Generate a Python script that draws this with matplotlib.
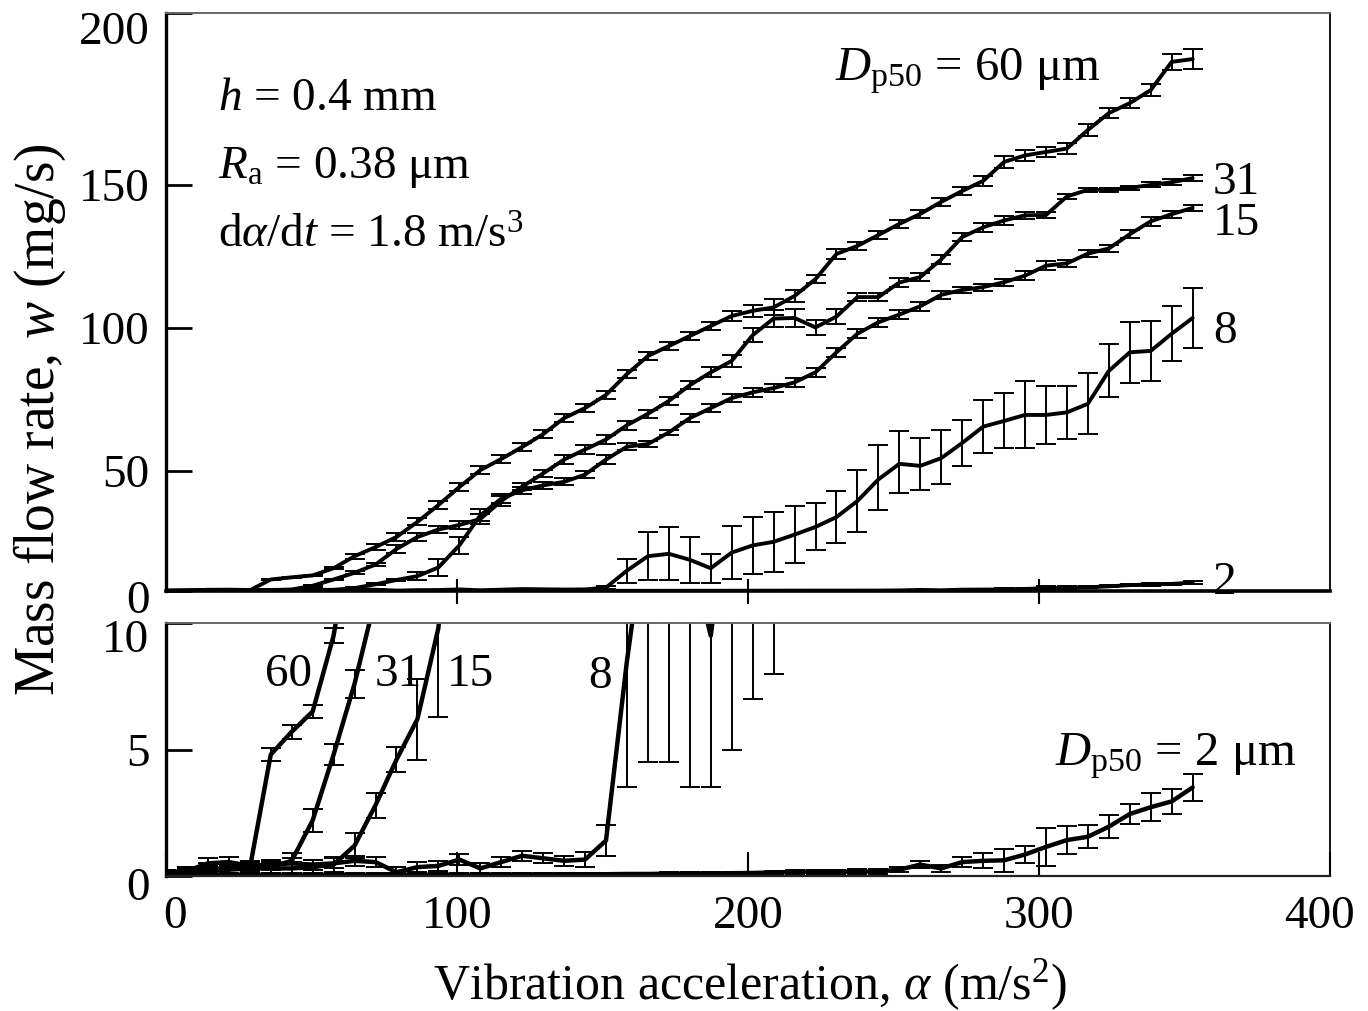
import numpy as np
import matplotlib
matplotlib.use('Agg')
import matplotlib.pyplot as plt
from matplotlib.transforms import ScaledTranslation

plt.rcParams['font.family'] = ['Liberation Serif', 'DejaVu Serif']
plt.rcParams['mathtext.fontset'] = 'custom'
plt.rcParams['mathtext.rm'] = 'Liberation Serif'
plt.rcParams['mathtext.it'] = 'Liberation Serif:italic'
plt.rcParams['mathtext.bf'] = 'Liberation Serif:bold'

# ---------------- data ----------------
accel = [0.0, 7.2, 14.4, 21.6, 28.8, 36.0, 43.2, 50.4, 57.6, 64.8,
         72.0, 79.2, 86.4, 93.6, 100.8, 108.0, 115.2, 122.4, 129.6, 136.8,
         144.0, 151.2, 158.4, 165.6, 172.8, 180.0, 187.2, 194.4, 201.6, 208.8,
         216.0, 223.2, 230.4, 237.6, 244.8, 252.0, 259.2, 266.4, 273.6, 280.8,
         288.0, 295.2, 302.4, 309.6, 316.8, 324.0, 331.2, 338.4, 345.6, 352.8]

w60 = [0.1, 0.15, 0.2, 0.3, 0.3, 4.8, 5.7, 6.5, 9.5, 14.5,
       18.3, 22.5, 28.8, 35.8, 43.3, 50.3, 54.2, 58.4, 62.9, 68.5,
       72.0, 76.6, 83.9, 90.2, 93.7, 97.2, 100.7, 104.2, 106.0, 107.2,
       111.2, 117.1, 125.9, 128.7, 132.5, 136.4, 139.9, 144.1, 147.9, 151.2,
       156.7, 158.6, 159.6, 160.6, 166.0, 170.9, 173.8, 177.6, 185.8, 186.6]
e60 = [0.1, 0.1, 0.15, 0.2, 0.2, 0.25, 0.27, 0.27, 0.3, 1.0,
       1.2, 1.5, 1.5, 1.7, 1.8, 1.5, 1.5, 1.5, 1.5, 1.5,
       1.5, 1.5, 1.5, 1.5, 1.5, 1.5, 1.5, 1.8, 2.0, 2.8,
       2.0, 1.5, 1.8, 1.5, 1.5, 1.5, 1.5, 1.5, 1.5, 1.5,
       1.8, 1.5, 1.5, 1.5, 1.8, 1.5, 1.5, 1.8, 2.3, 3.0]

w31 = [0.15, 0.2, 0.3, 0.3, 0.3, 0.35, 0.6, 2.2, 4.8, 7.6,
       11.0, 17.5, 22.5, 25.6, 27.5, 30.0, 37.5, 43.5, 49.0, 54.0,
       57.5, 61.0, 66.0, 70.0, 74.5, 80.0, 84.5, 88.5, 97.5, 103.3,
       103.5, 100.2, 104.0, 110.8, 110.8, 115.9, 117.8, 124.0, 131.8, 135.2,
       137.6, 139.4, 139.5, 146.0, 148.3, 148.3, 149.0, 150.0, 150.8, 152.0]
e31 = [0.1, 0.15, 0.2, 0.2, 0.25, 0.25, 0.3, 0.45, 0.4, 0.55,
       0.6, 1.5, 1.5, 1.5, 1.5, 2.0, 2.0, 1.5, 1.5, 1.5,
       1.5, 1.5, 1.5, 1.5, 1.5, 1.5, 1.8, 2.0, 2.5, 3.0,
       3.0, 2.5, 2.5, 1.5, 1.5, 1.5, 1.5, 1.5, 1.5, 1.5,
       1.5, 1.2, 1.0, 1.0, 0.8, 0.8, 0.8, 0.8, 0.8, 0.8]

w15 = [0.1, 0.15, 0.2, 0.25, 0.3, 0.3, 0.3, 0.35, 0.45, 1.2,
       2.8, 4.6, 6.2, 9.8, 19.0, 31.5, 38.5, 42.0, 44.0, 45.5,
       48.5, 54.0, 58.5, 59.4, 63.5, 68.5, 72.0, 75.5, 77.5, 79.0,
       81.0, 84.5, 91.5, 98.0, 102.0, 104.7, 107.6, 111.6, 113.3, 114.3,
       116.0, 118.3, 121.8, 122.6, 126.0, 127.8, 132.8, 137.3, 139.8, 142.0]
e15 = [0.1, 0.15, 0.2, 0.2, 0.25, 0.25, 0.25, 0.3, 0.3, 0.5,
       0.5, 0.5, 1.6, 3.5, 3.5, 2.5, 2.0, 1.5, 1.5, 1.5,
       1.5, 1.5, 1.2, 1.0, 1.0, 1.5, 1.5, 1.5, 1.5, 1.5,
       1.5, 1.5, 1.5, 1.5, 1.5, 1.5, 1.5, 1.5, 1.2, 1.2,
       1.2, 1.5, 1.5, 1.2, 1.2, 1.2, 1.5, 1.5, 1.2, 1.0]

w8 = [0.0, 0.2, 0.5, 0.55, 0.4, 0.45, 0.5, 0.45, 0.5, 0.6,
      0.55, 0.15, 0.35, 0.4, 0.65, 0.3, 0.55, 0.8, 0.7, 0.6,
      0.65, 1.4, 8.5, 14.5, 15.5, 13.0, 9.5, 16.0, 19.0, 20.5,
      23.5, 26.7, 30.8, 37.5, 46.5, 52.5, 51.8, 54.5, 59.8, 65.5,
      67.5, 69.6, 69.6, 70.5, 73.5, 85.0, 91.5, 92.0, 98.0, 103.5]
e8 = [0.1, 0.15, 0.2, 0.2, 0.2, 0.2, 0.2, 0.2, 0.2, 0.2,
      0.2, 0.2, 0.2, 0.2, 0.2, 0.2, 0.2, 0.2, 0.2, 0.2,
      0.3, 0.6, 5.0, 10.0, 11.0, 9.5, 6.0, 11.0, 12.0, 12.5,
      12.0, 9.8, 11.0, 13.0, 12.6, 11.5, 9.6, 10.0, 8.0, 9.2,
      9.6, 11.7, 10.0, 9.3, 10.7, 9.3, 10.7, 10.5, 9.6, 10.5]

w2 = [0.05, 0.05, 0.05, 0.05, 0.05, 0.05, 0.05, 0.05, 0.05, 0.05,
      0.05, 0.05, 0.05, 0.05, 0.05, 0.05, 0.06, 0.06, 0.06, 0.07,
      0.07, 0.07, 0.08, 0.08, 0.09, 0.1, 0.1, 0.11, 0.12, 0.14,
      0.16, 0.17, 0.17, 0.17, 0.18, 0.25, 0.45, 0.3, 0.55, 0.6,
      0.62, 0.85, 1.15, 1.42, 1.55, 1.95, 2.45, 2.72, 2.95, 3.5]
e2 = [0.05, 0.05, 0.05, 0.05, 0.05, 0.05, 0.05, 0.05, 0.05, 0.05,
      0.05, 0.05, 0.05, 0.05, 0.05, 0.05, 0.05, 0.05, 0.05, 0.05,
      0.05, 0.05, 0.05, 0.05, 0.05, 0.05, 0.05, 0.05, 0.05, 0.06,
      0.07, 0.08, 0.08, 0.09, 0.1, 0.1, 0.15, 0.15, 0.2, 0.3,
      0.45, 0.35, 0.75, 0.55, 0.45, 0.45, 0.4, 0.55, 0.5, 0.55]

series = [(w60, e60), (w31, e31), (w15, e15), (w8, e8), (w2, e2)]

top_yticks = [0, 50, 100, 150, 200]
bot_yticks = [0, 5, 10]
xticks_lab = [0, 100, 200, 300, 400]

# ---------------- layout ----------------
W, H = 1368, 1011
fig = plt.figure(figsize=(W / 100, H / 100), dpi=100)


def fx(px):
    return px / W


def fy(py):
    return 1 - py / H


ax1 = fig.add_axes([fx(166), fy(591), fx(1330) - fx(166), fy(13) - fy(591)])
ax2 = fig.add_axes([fx(166), fy(876), fx(1330) - fx(166), fy(623) - fy(876)])

# top panel vertical scale (tick spacing of the original is not uniform)
kv = np.array([0., 50., 100., 150., 200.])
kp = np.array([0., 120., 263., 406., 578.])


def fwd(v):
    v = np.asarray(v, dtype=float)
    out = np.interp(v, kv, kp)
    out = np.where(v < 0, v * 2.4, out)
    out = np.where(v > 200, 578 + (v - 200) * 3.44, out)
    return out


def inv(p):
    p = np.asarray(p, dtype=float)
    out = np.interp(p, kp, kv)
    out = np.where(p < 0, p / 2.4, out)
    out = np.where(p > 578, 200 + (p - 578) / 3.44, out)
    return out


ax1.set_yscale('function', functions=(fwd, inv))

for ax, lw in ((ax1, 2.8), (ax2, 3.2)):
    for y, e in series:
        ax.errorbar(accel, y, yerr=e, fmt='-', color='black', lw=lw,
                    elinewidth=1.4, capsize=7, capthick=1.4,
                    solid_joinstyle='round', solid_capstyle='round')
    ax.set_xlim(0, 400)

ax1.set_ylim(0, 200)
ax2.set_ylim(0, 10)

TICK_FS = 34
ax1.set_yticks(top_yticks)
ax1.set_yticklabels([str(t) for t in top_yticks])
ax1.set_xticks([100, 200, 300])
ax1.tick_params(axis='x', direction='inout', length=18, width=1.5,
                labelbottom=False)
ax1.tick_params(axis='y', direction='in', length=19, width=2.0,
                labelsize=TICK_FS, pad=12)

ax2.set_yticks(bot_yticks)
ax2.set_yticklabels([str(t) for t in bot_yticks])
ax2.set_xticks(xticks_lab)
ax2.set_xticklabels([str(t) for t in xticks_lab])
ax2.tick_params(axis='x', direction='in', length=17, width=1.5,
                labelsize=TICK_FS, pad=14)
ax2.tick_params(axis='y', direction='in', length=19, width=2.0,
                labelsize=TICK_FS, pad=12)

for ax in (ax1, ax2):
    ax.spines['left'].set_linewidth(2.4)
    ax.spines['top'].set_linewidth(1.4)
    ax.spines['top'].set_color('#666666')
    ax.spines['right'].set_linewidth(1.3)
ax1.spines['bottom'].set_linewidth(2.6)
ax2.spines['bottom'].set_linewidth(1.6)
ax2.spines['bottom'].set_color('#222222')


# nudge a few tick labels as placed in the original
def shift(lbl, dx_px, dy_px):
    lbl.set_transform(lbl.get_transform() +
                      ScaledTranslation(dx_px / 100, -dy_px / 100, fig.dpi_scale_trans))


t1 = ax1.yaxis.get_major_ticks()
shift(t1[0].label1, 0, 6)
shift(t1[4].label1, 0, 15)
t2 = ax2.yaxis.get_major_ticks()
shift(t2[0].label1, 0, 8)
shift(t2[2].label1, 0, 13)
tx = ax2.xaxis.get_major_ticks()
shift(tx[0].label1, 9, 0)
shift(tx[4].label1, -11, 0)

# ---------------- text ----------------
fig.text(fx(40), fy(420), r'Mass flow rate, $w$ (mg/s)', rotation=90,
         ha='center', va='center', fontsize=40)
fig.text(fx(750), fy(985), r'Vibration acceleration, $\alpha$ (m/s$^2$)',
         ha='center', va='center', fontsize=36)

AFS = 34
fig.text(fx(218), fy(110), r'$h$ = 0.4 mm', fontsize=AFS, va='baseline')
fig.text(fx(218), fy(178), r'$R_\mathrm{a}$ = 0.38 μm', fontsize=AFS, va='baseline')
fig.text(fx(218), fy(248), r'd$\alpha$/d$t$ = 1.8 m/s$^3$', fontsize=AFS, va='baseline')
fig.text(fx(835), fy(80), r'$D_\mathrm{p50}$ = 60 μm', fontsize=35, va='baseline')
fig.text(fx(1213), fy(194), '31', fontsize=AFS, va='baseline')
fig.text(fx(1213), fy(235), '15', fontsize=AFS, va='baseline')
fig.text(fx(1213), fy(343), '8', fontsize=AFS, va='baseline')
fig.text(fx(1213), fy(594), '2', fontsize=AFS, va='baseline')

fig.text(fx(265), fy(686), '60', fontsize=AFS, va='baseline')
fig.text(fx(375), fy(686), '31', fontsize=AFS, va='baseline')
fig.text(fx(447), fy(686), '15', fontsize=AFS, va='baseline')
fig.text(fx(588), fy(688), '8', fontsize=AFS, va='baseline')
fig.text(fx(1055), fy(765), r'$D_\mathrm{p50}$ = 2 μm', fontsize=35, va='baseline')

fig.savefig('out.png', dpi=100)
